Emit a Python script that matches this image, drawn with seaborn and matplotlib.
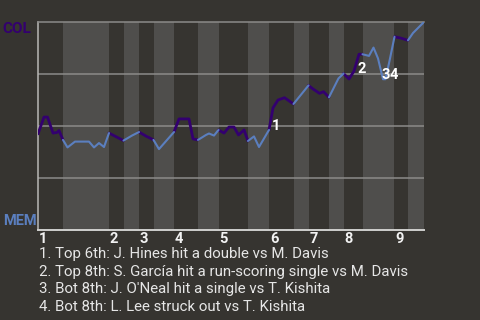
import matplotlib
matplotlib.use("Agg")
import matplotlib.pyplot as plt
import seaborn as sns
import pandas as pd

# ---- data -------------------------------------------------------------
# play sequence (x) and Colorado win probability in % (y)
play = [0, 1.2, 1.9, 3.0, 3.8, 4.2, 5.0, 5.9, 7.4, 10.2, 11.2, 12.2, 13.2, 14.2,
        17.1, 18.8, 20.2, 21.7, 22.4, 23.1, 24.2, 27.2, 28.2, 30.2, 31.0, 32.0,
        33.6, 34.2, 35.2, 36.1, 37.2, 38.2, 39.2, 40.1, 41.2, 42.0, 43.2, 44.2,
        46.2, 47.0, 48.0, 49.3, 51.1, 54.1, 55.0, 56.3, 57.1, 58.2, 60.1, 61.1,
        62.2, 63.2, 64.2, 64.9, 66.2, 67.1, 68.0, 69.0, 69.5, 70.3, 71.3, 72.5,
        74.0, 75.0, 77.2]
col_wp = [46.2, 54.3, 54.3, 46.6, 46.9, 47.8, 43.3, 39.7, 42.5, 42.5, 39.7, 41.8,
          39.9, 46.6, 43.0, 45.4, 47.1, 45.0, 44.2, 43.3, 38.9, 47.1, 53.4, 53.4,
          43.8, 43.3, 45.7, 46.4, 45.4, 48.1, 46.6, 49.5, 49.5, 45.7, 48.1, 42.8,
          45.0, 39.9, 48.1, 58.7, 62.5, 63.6, 60.6, 69.5, 67.8, 65.7, 66.5, 63.8,
          72.9, 75.2, 72.6, 76.4, 84.5, 84.5, 83.7, 87.7, 82.5, 72.5, 72.5, 81.3,
          92.9, 92.3, 91.2, 94.7, 100.0]
# index of the first point of each half inning (top/bottom alternate)
half_starts = [0, 6, 13, 14, 16, 19, 21, 25, 29, 35, 38, 42, 43, 47, 49, 53, 60, 62]
teams = ["COL", "MEM"]
team_colors = {"COL": "#33006F", "MEM": "#5b7fbf"}
innings = [1, 2, 3, 4, 5, 6, 7, 8, 9]

event_idx = [38, 51, 57, 58]
event_labels = ["1", "2", "3", "4"]
event_texts = [
    "1. Top 6th: J. Hines hit a double vs M. Davis",
    "2. Top 8th: S. García hit a run-scoring single vs M. Davis",
    "3. Bot 8th: J. O'Neal hit a single vs T. Kishita",
    "4. Bot 8th: L. Lee struck out vs T. Kishita",
]

# ---- build long table of segments --------------------------------------
rows = []
bounds = half_starts + [len(play) - 1]
for h in range(len(half_starts)):
    team = teams[h % 2]
    for i in range(bounds[h], bounds[h + 1] + 1):
        rows.append({"play": play[i], "wp": col_wp[i], "seg": h, "team": team})
df = pd.DataFrame(rows)

# ---- style -------------------------------------------------------------
BG = "#363430"
LIGHT = "#4f4e4c"
sns.set_theme(style="dark")
plt.rcParams["font.family"] = ["Roboto", "DejaVu Sans"]

fig = plt.figure(figsize=(4.8, 3.2), dpi=100, facecolor=BG)
ax = fig.add_axes([38 / 480, 90 / 320, 386 / 480, 208 / 320])
ax.set_facecolor(BG)

# alternating half-inning bands
for h in range(len(half_starts)):
    x0 = play[bounds[h]]
    x1 = play[bounds[h + 1]]
    ax.axvspan(x0, x1, color=BG if h % 2 == 0 else LIGHT, lw=0, zorder=0)

for y in [25, 50, 75]:
    ax.axhline(y, color="#8c8b89", lw=1.1, zorder=1)

sns.lineplot(data=df, x="play", y="wp", hue="team", units="seg", estimator=None,
             size="team", sizes={"COL": 2.0, "MEM": 1.5},
             palette=team_colors, sort=False, legend=False, ax=ax, zorder=3)

ax.set_xlim(play[0], play[-1])
ax.set_ylim(0, 100)
ax.set_xticks([])
ax.set_yticks([])
ax.set_xlabel("")
ax.set_ylabel("")
ax.grid(False)
ax.spines["right"].set_visible(False)
ax.spines["top"].set_color("#8c8b89")
ax.spines["top"].set_linewidth(1.1)
ax.spines["left"].set_color("#b9b8b6")
ax.spines["left"].set_linewidth(1.1)
ax.spines["bottom"].set_color("#d0d0ce")
ax.spines["bottom"].set_linewidth(1.4)

# inning numbers
for k, inn in enumerate(innings):
    xs = play[half_starts[2 * k]]
    ax.annotate(str(inn), xy=(xs, 0), xycoords=("data", "axes fraction"),
                xytext=(1, -2), textcoords="offset pixels", ha="left", va="top",
                color="#f2f2f2", fontsize=10.5, fontweight="bold")

# event markers
ev_off = [(3, 0), (4, -2), (-1, 0), (4, 0)]
for idx, lab, off in zip(event_idx, event_labels, ev_off):
    ax.annotate(lab, xy=(play[idx], col_wp[idx]), xytext=off,
                textcoords="offset pixels", ha="left", va="baseline",
                color="white", fontsize=10.5, fontweight="bold", zorder=5)

# team labels
fig.text(2 / 480, 1 - 22 / 320, "COL", color=team_colors["COL"], fontsize=11,
         fontweight="bold", ha="left", va="top")
fig.text(3 / 480, 1 - 225 / 320, "MEM", color=team_colors["MEM"], fontsize=10.5,
         fontweight="bold", ha="left", va="baseline")

# event descriptions
for j, t in enumerate(event_texts):
    fig.text(39 / 480, 1 - (258.3 + 17.6 * j) / 320, t, color="#e6e6e6",
             fontsize=10.8, ha="left", va="baseline")

fig.savefig("out.png", dpi=100, facecolor=BG)
